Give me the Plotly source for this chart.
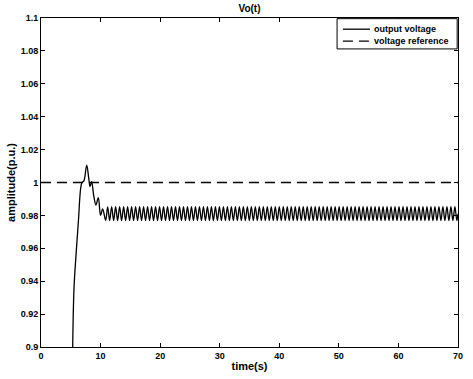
import plotly.graph_objects as go

# Transient part of the output voltage
trans_time = [5.32, 5.54, 5.88, 6.27, 6.66, 6.88, 7.2, 7.67, 8.0, 8.23, 8.5, 8.85, 9.23, 9.62, 10.0, 10.35]
trans_value = [0.900, 0.9357, 0.956, 0.976, 0.9965, 1.000, 1.001, 1.0106, 1.003, 0.9975, 1.0005, 0.992, 0.9863, 0.9908, 0.980, 0.984]

# Steady-state ripple extremes (trough, peak alternating)
osc_time = [
    10.85, 11.19, 11.52, 11.86, 12.19, 12.53, 12.86, 13.20, 13.53, 13.87,
    14.20, 14.54, 14.87, 15.21, 15.54, 15.88, 16.21, 16.55, 16.88, 17.22,
    17.55, 17.89, 18.22, 18.56, 18.89, 19.23, 19.56, 19.90, 20.23, 20.57,
    20.90, 21.24, 21.57, 21.91, 22.24, 22.58, 22.91, 23.25, 23.58, 23.92,
    24.25, 24.59, 24.92, 25.26, 25.59, 25.93, 26.26, 26.60, 26.93, 27.27,
    27.60, 27.94, 28.27, 28.61, 28.94, 29.28, 29.61, 29.95, 30.28, 30.62,
    30.95, 31.29, 31.62, 31.96, 32.29, 32.63, 32.96, 33.30, 33.63, 33.97,
    34.30, 34.64, 34.97, 35.31, 35.64, 35.98, 36.31, 36.65, 36.98, 37.32,
    37.65, 37.99, 38.32, 38.66, 38.99, 39.33, 39.66, 40.00, 40.33, 40.67,
    41.00, 41.34, 41.67, 42.01, 42.34, 42.68, 43.01, 43.35, 43.68, 44.02,
    44.35, 44.69, 45.02, 45.36, 45.69, 46.03, 46.36, 46.70, 47.03, 47.37,
    47.70, 48.04, 48.37, 48.71, 49.04, 49.38, 49.71, 50.05, 50.38, 50.72,
    51.05, 51.39, 51.72, 52.06, 52.39, 52.73, 53.06, 53.40, 53.73, 54.07,
    54.40, 54.74, 55.07, 55.41, 55.74, 56.08, 56.41, 56.75, 57.08, 57.42,
    57.75, 58.09, 58.42, 58.76, 59.09, 59.43, 59.76, 60.10, 60.43, 60.77,
    61.10, 61.44, 61.77, 62.11, 62.44, 62.78, 63.11, 63.45, 63.78, 64.12,
    64.45, 64.79, 65.12, 65.46, 65.79, 66.13, 66.46, 66.80, 67.13, 67.47,
    67.80, 68.14, 68.47, 68.81, 69.14, 69.48, 69.81, 70.00,
]
osc_value = [
    0.9770, 0.9852, 0.9768, 0.9853, 0.9768, 0.9853, 0.9768, 0.9853, 0.9768, 0.9853,
    0.9768, 0.9853, 0.9768, 0.9853, 0.9768, 0.9853, 0.9768, 0.9853, 0.9768, 0.9853,
    0.9768, 0.9853, 0.9768, 0.9853, 0.9768, 0.9853, 0.9768, 0.9853, 0.9768, 0.9853,
    0.9768, 0.9853, 0.9768, 0.9853, 0.9768, 0.9853, 0.9768, 0.9853, 0.9768, 0.9853,
    0.9768, 0.9853, 0.9768, 0.9853, 0.9768, 0.9853, 0.9768, 0.9853, 0.9768, 0.9853,
    0.9768, 0.9853, 0.9768, 0.9853, 0.9768, 0.9853, 0.9768, 0.9853, 0.9768, 0.9853,
    0.9768, 0.9853, 0.9768, 0.9853, 0.9768, 0.9853, 0.9768, 0.9853, 0.9768, 0.9853,
    0.9768, 0.9853, 0.9768, 0.9853, 0.9768, 0.9853, 0.9768, 0.9853, 0.9768, 0.9853,
    0.9768, 0.9853, 0.9768, 0.9853, 0.9768, 0.9853, 0.9768, 0.9853, 0.9768, 0.9853,
    0.9768, 0.9853, 0.9768, 0.9853, 0.9768, 0.9853, 0.9768, 0.9853, 0.9768, 0.9853,
    0.9768, 0.9853, 0.9768, 0.9853, 0.9768, 0.9853, 0.9768, 0.9853, 0.9768, 0.9853,
    0.9768, 0.9853, 0.9768, 0.9853, 0.9768, 0.9853, 0.9768, 0.9853, 0.9768, 0.9853,
    0.9768, 0.9853, 0.9768, 0.9853, 0.9768, 0.9853, 0.9768, 0.9853, 0.9768, 0.9853,
    0.9768, 0.9853, 0.9768, 0.9853, 0.9768, 0.9853, 0.9768, 0.9853, 0.9768, 0.9853,
    0.9768, 0.9853, 0.9768, 0.9853, 0.9768, 0.9853, 0.9768, 0.9853, 0.9768, 0.9853,
    0.9768, 0.9853, 0.9768, 0.9853, 0.9768, 0.9853, 0.9768, 0.9853, 0.9768, 0.9853,
    0.9768, 0.9853, 0.9768, 0.9853, 0.9768, 0.9853, 0.9768, 0.9853, 0.9768, 0.9853,
    0.9768, 0.9853, 0.9768, 0.9853, 0.9768, 0.9853, 0.9768, 0.9810,
]

ref_time = [0, 70]
ref_value = [1.0, 1.0]

x_ticks = [0, 10, 20, 30, 40, 50, 60, 70]
y_ticks = [0.9, 0.92, 0.94, 0.96, 0.98, 1.0, 1.02, 1.04, 1.06, 1.08, 1.1]
series_names = ["output voltage", "voltage reference"]

out_time = trans_time + osc_time
out_value = trans_value + osc_value

FONT = "Liberation Sans"

fig = go.Figure()
fig.add_trace(go.Scatter(
    x=out_time, y=out_value, mode="lines", name=series_names[0], showlegend=False,
    line=dict(color="black", width=1.3, shape="spline", smoothing=1.0),
))
fig.add_trace(go.Scatter(
    x=ref_time, y=ref_value, mode="lines", name=series_names[1], showlegend=False,
    line=dict(color="black", width=1.4, dash="10px,6px"),
))

axis_common = dict(
    showline=True, linecolor="black", linewidth=1, mirror="ticks",
    ticks="inside", ticklen=4, tickcolor="black", showgrid=False, zeroline=False,
    automargin=False,
    tickfont=dict(family=FONT, size=9, color="black", weight="bold"),
)

# Legend box (drawn in paper coordinates, top-right inside the axes)
fig.add_shape(type="rect", xref="paper", yref="paper", x0=0.710, x1=0.998, y0=0.906, y1=0.998,
              line=dict(color="black", width=1), fillcolor="white", layer="above")
legend_rows = [0.966, 0.930]
legend_dash = ["solid", "10px,6px"]
for name, ry, dash in zip(series_names, legend_rows, legend_dash):
    fig.add_shape(type="line", xref="paper", yref="paper", x0=0.724, x1=0.789, y0=ry, y1=ry,
                  line=dict(color="black", width=1.3, dash=dash), layer="above")
    fig.add_annotation(xref="paper", yref="paper", x=0.794, y=ry, xanchor="left", yanchor="middle",
                       text=name, showarrow=False,
                       font=dict(family=FONT, size=9, color="black", weight="bold"))

fig.update_layout(
    width=473, height=379,
    margin=dict(l=41, r=15, t=18, b=32, autoexpand=False),
    paper_bgcolor="white", plot_bgcolor="white",
    title=dict(text="Vo(t)", xref="paper", x=0.5, xanchor="center", y=0.978, yanchor="middle",
               font=dict(family=FONT, size=10, color="black", weight="bold")),
    showlegend=False,
)
fig.update_xaxes(range=[0, 70], tickvals=x_ticks, **axis_common,
                 title=dict(text="time(s)", standoff=2,
                            font=dict(family=FONT, size=11, color="black", weight="bold")))
fig.update_yaxes(range=[0.9, 1.1], tickvals=y_ticks, **axis_common,
                 title=dict(text="amplitude(p.u.)", standoff=2,
                            font=dict(family=FONT, size=11, color="black", weight="bold")))

fig.write_html("out.html", config={"displayModeBar": False},
               post_script="document.body.style.margin='0';")
